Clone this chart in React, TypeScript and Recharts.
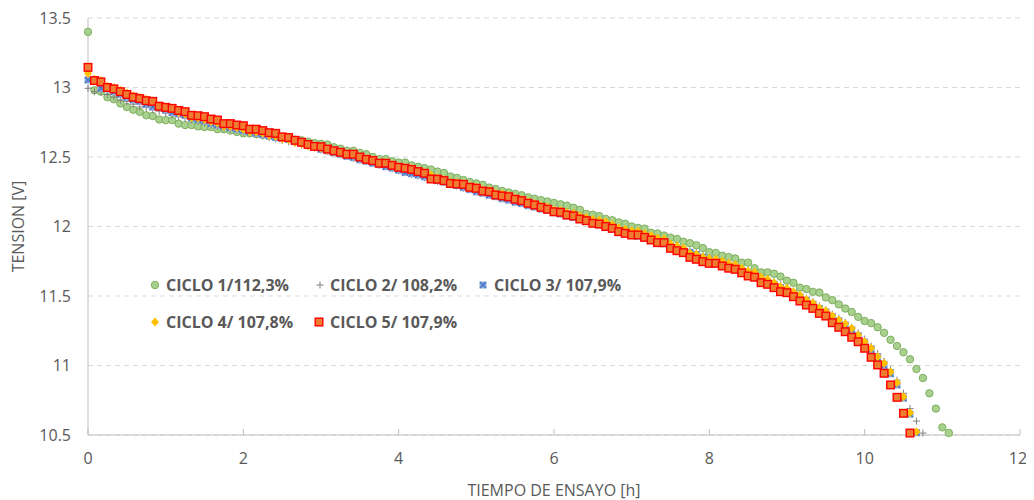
import React from 'react';
import { ScatterChart, Scatter, XAxis, YAxis, CartesianGrid } from 'recharts';

// sampling interval of the test log: one reading every 5 minutes (in hours)
const SAMPLE_HOURS = 5 / 60;

const X_TICKS = [0, 2, 4, 6, 8, 10, 12];
const Y_TICKS = [10.5, 11, 11.5, 12, 12.5, 13, 13.5];

const SERIES_NAMES = [
  'CICLO 1/112,3%',
  'CICLO 2/ 108,2%',
  'CICLO 3/ 107,9%',
  'CICLO 4/ 107,8%',
  'CICLO 5/ 107,9%',
];

const CICLO_1 = [
  13.40, 12.98, 12.97, 12.93, 12.915, 12.885, 12.86, 12.84, 12.825, 12.80, 12.795, 12.77, 12.765, 12.765, 12.74, 12.73, 12.73, 12.72, 12.715, 12.715, 12.70, 12.70, 12.69, 12.68, 12.67, 12.67,
  12.665, 12.66, 12.655, 12.645, 12.64, 12.635, 12.625, 12.62, 12.61, 12.60, 12.595, 12.59, 12.57, 12.56, 12.545, 12.545, 12.53, 12.52, 12.50, 12.485, 12.485, 12.47, 12.46, 12.46, 12.44, 12.43,
  12.42, 12.41, 12.395, 12.385, 12.36, 12.35, 12.335, 12.32, 12.31, 12.30, 12.28, 12.27, 12.255, 12.245, 12.235, 12.225, 12.21, 12.20, 12.19, 12.18, 12.17, 12.16, 12.15, 12.135, 12.12,
  12.09, 12.085, 12.075, 12.055, 12.045, 12.03, 12.02, 12.0, 11.99, 11.985, 11.955, 11.95, 11.935, 11.92, 11.91, 11.89, 11.88, 11.865, 11.845, 11.815, 11.81, 11.79, 11.78, 11.77, 11.74, 11.74,
  11.70, 11.67, 11.67, 11.66, 11.64, 11.61, 11.595, 11.56, 11.55, 11.53, 11.525, 11.49, 11.47, 11.44, 11.41, 11.385, 11.35, 11.32, 11.305, 11.275,
  11.235, 11.185, 11.14, 11.095, 11.045, 10.975, 10.91, 10.80, 10.69, 10.555, 10.515,
];

const CICLO_2 = [
  12.994, 12.97, 12.97, 12.95, 12.93, 12.91, 12.90, 12.88, 12.86, 12.855, 12.84, 12.83, 12.815, 12.80, 12.79, 12.78, 12.765, 12.755, 12.745, 12.73, 12.72, 12.71, 12.70, 12.69, 12.68,
  12.67, 12.66, 12.65, 12.64, 12.63, 12.62, 12.61, 12.60, 12.585, 12.575, 12.565, 12.55, 12.54, 12.53, 12.515, 12.505, 12.49, 12.48, 12.465, 12.455, 12.44, 12.43, 12.415, 12.40, 12.39, 12.375, 12.365,
  12.35, 12.34, 12.325, 12.315, 12.30, 12.29, 12.275, 12.265, 12.25, 12.24, 12.225, 12.215, 12.20, 12.19, 12.175, 12.165, 12.15, 12.14, 12.125, 12.115, 12.10, 12.09, 12.075, 12.065, 12.05, 12.04, 12.025,
  12.015, 12.0, 11.99, 11.975, 11.965, 11.95, 11.94, 11.925, 11.91, 11.895, 11.885, 11.87, 11.855, 11.84, 11.825, 11.81, 11.79, 11.775, 11.76, 11.745, 11.73, 11.71, 11.695, 11.675,
  11.66, 11.64, 11.62, 11.60, 11.58, 11.555, 11.535, 11.51, 11.485, 11.46, 11.43, 11.40, 11.37, 11.34, 11.31, 11.275, 11.235, 11.19, 11.14, 11.085, 11.03, 10.97, 10.895, 10.80, 10.69, 10.60, 10.514,
];

const CICLO_3 = [
  13.054, 13.05, 12.994, 12.99, 12.97, 12.95, 12.93, 12.91, 12.90, 12.88, 12.86, 12.857, 12.84, 12.82, 12.81, 12.80, 12.78, 12.77, 12.76, 12.74, 12.73, 12.72, 12.71, 12.70, 12.69,
  12.68, 12.67, 12.66, 12.65, 12.64, 12.635, 12.625, 12.61, 12.60, 12.585, 12.575, 12.555, 12.545, 12.53, 12.52, 12.505, 12.496, 12.48, 12.47, 12.455, 12.445, 12.43, 12.42, 12.405, 12.388, 12.38, 12.37,
  12.357, 12.34, 12.33, 12.32, 12.305, 12.295, 12.28, 12.265, 12.249, 12.24, 12.225, 12.215, 12.20, 12.19, 12.175, 12.165, 12.15, 12.14, 12.125, 12.115, 12.10, 12.09, 12.075, 12.065, 12.05, 12.04, 12.025,
  12.01, 11.995, 11.98, 11.965, 11.955, 11.94, 11.93, 11.915, 11.90, 11.885, 11.875, 11.86, 11.845, 11.83, 11.815, 11.80, 11.78, 11.765, 11.75, 11.735, 11.72, 11.70, 11.685, 11.665,
  11.645, 11.625, 11.605, 11.585, 11.56, 11.54, 11.52, 11.495, 11.47, 11.44, 11.41, 11.385, 11.35, 11.32, 11.29, 11.255, 11.21, 11.16, 11.115, 11.055, 11.0, 10.94, 10.86, 10.765, 10.65, 10.516,
];

const CICLO_4 = [
  13.10, 13.06, 13.05, 13.01, 13.00, 12.98, 12.96, 12.94, 12.93, 12.915, 12.905, 12.87, 12.86, 12.845, 12.82, 12.81, 12.785, 12.78, 12.77, 12.755, 12.745, 12.72, 12.72, 12.71, 12.70,
  12.68, 12.68, 12.67, 12.655, 12.65, 12.63, 12.625, 12.605, 12.595, 12.58, 12.57, 12.565, 12.55, 12.54, 12.53, 12.52, 12.515, 12.50, 12.485, 12.475, 12.46, 12.46, 12.445, 12.43, 12.425, 12.415, 12.40,
  12.39, 12.37, 12.35, 12.34, 12.32, 12.315, 12.31, 12.29, 12.285, 12.265, 12.26, 12.24, 12.235, 12.225, 12.205, 12.195, 12.18, 12.165, 12.15, 12.14, 12.12, 12.115, 12.10, 12.095, 12.075, 12.065, 12.05,
  12.045, 12.034, 12.015, 11.99, 11.98, 11.97, 11.965, 11.95, 11.935, 11.915, 11.91, 11.875, 11.86, 11.845, 11.81, 11.80, 11.78, 11.77, 11.765, 11.75, 11.735, 11.725, 11.70, 11.68,
  11.67, 11.635, 11.62, 11.595, 11.567, 11.555, 11.53, 11.507, 11.475, 11.45, 11.415, 11.394, 11.358, 11.327, 11.30, 11.268, 11.22, 11.171, 11.124, 11.063, 11.016, 10.955, 10.876, 10.776, 10.66, 10.524,
];

const CICLO_5 = [
  13.145, 13.05, 13.04, 13.00, 12.99, 12.97, 12.95, 12.93, 12.92, 12.905, 12.90, 12.865, 12.857, 12.85, 12.835, 12.826, 12.80, 12.797, 12.79, 12.773, 12.766, 12.74, 12.74, 12.73, 12.725,
  12.70, 12.70, 12.69, 12.675, 12.67, 12.645, 12.64, 12.62, 12.606, 12.59, 12.576, 12.574, 12.557, 12.545, 12.534, 12.52, 12.52, 12.50, 12.483, 12.474, 12.455, 12.455, 12.44, 12.426, 12.419, 12.41, 12.395,
  12.383, 12.342, 12.34, 12.33, 12.31, 12.306, 12.303, 12.282, 12.275, 12.255, 12.25, 12.227, 12.22, 12.214, 12.196, 12.186, 12.167, 12.155, 12.138, 12.124, 12.106, 12.102, 12.083, 12.076, 12.054, 12.042, 12.023,
  12.018, 12.0, 11.987, 11.963, 11.951, 11.939, 11.939, 11.922, 11.903, 11.884, 11.884, 11.843, 11.826, 11.812, 11.778, 11.764, 11.747, 11.735, 11.735, 11.716, 11.70, 11.692, 11.667, 11.644,
  11.635, 11.596, 11.584, 11.56, 11.531, 11.524, 11.495, 11.464, 11.435, 11.411, 11.375, 11.356, 11.308, 11.275, 11.243, 11.203, 11.171, 11.124, 11.059, 11.004, 10.944, 10.86, 10.771, 10.656, 10.514,
];

const toPoints = (vals: number[]) => vals.map((v, i) => ({ x: i * SAMPLE_HOURS, y: v }));

const TEXT = '#595959';
const AXIS = '#BFBFBF';
const GRID = '#D9D9D9';
const FONT = "'Open Sans', 'Noto Sans', sans-serif";

type M = { cx: number; cy: number };

const CircleMark = ({ cx, cy }: M) => (
  <circle cx={cx} cy={cy} r={3.7} fill="#A9D18E" stroke="#7DAE5F" strokeWidth={1} />
);
const PlusMark = ({ cx, cy }: M) => (
  <path d={`M${cx - 3.5},${cy}h7M${cx},${cy - 3.5}v7`} stroke="#808080" strokeWidth={1} fill="none" />
);
const CrossMark = ({ cx, cy }: M) => (
  <g>
    <rect x={cx - 3.5} y={cy - 3.5} width={7} height={7} fill="#8FAADC" />
    <path d={`M${cx - 3},${cy - 3}L${cx + 3},${cy + 3}M${cx - 3},${cy + 3}L${cx + 3},${cy - 3}`} stroke="#4472C4" strokeWidth={1.3} fill="none" />
  </g>
);
const DiamondMark = ({ cx, cy }: M) => (
  <polygon points={`${cx},${cy - 4.5} ${cx + 4},${cy} ${cx},${cy + 4.5} ${cx - 4},${cy}`} fill="#FFC000" />
);
const SquareMark = ({ cx, cy }: M) => (
  <rect x={cx - 3.8} y={cy - 3.8} width={7.6} height={7.6} fill="#ED7D31" stroke="#FF0000" strokeWidth={1.4} />
);

const MARKS = [CircleMark, PlusMark, CrossMark, DiamondMark, SquareMark];
const SERIES = [CICLO_1, CICLO_2, CICLO_3, CICLO_4, CICLO_5];

// legend layout (container coordinates: marker centre x, row centre y, text start x)
const LEGEND_POS = [
  { mx: 147, y: 277, tx: 158 },
  { mx: 312, y: 277, tx: 322 },
  { mx: 475, y: 277, tx: 486 },
  { mx: 147, y: 314, tx: 158 },
  { mx: 311, y: 314, tx: 322 },
];

export default function App() {
  return (
    <div style={{ position: 'relative', width: 1018, height: 492, fontFamily: FONT }}>
      <ScatterChart width={1018} height={492} margin={{ top: 10, right: 6, bottom: 0, left: 0 }}>
        <CartesianGrid horizontal vertical={false} stroke={GRID} strokeDasharray="5 4" />
        <XAxis
          dataKey="x"
          type="number"
          domain={[0, 12]}
          ticks={X_TICKS}
          height={65}
          stroke={AXIS}
          tickSize={-6}
          tickMargin={24}
          tick={{ fill: TEXT, fontSize: 16, fontFamily: FONT }}
          label={{ value: 'TIEMPO DE ENSAYO [h]', position: 'insideBottom', offset: 4, fill: TEXT, fontSize: 16, fontFamily: FONT }}
        />
        <YAxis
          dataKey="y"
          type="number"
          domain={[10.5, 13.5]}
          ticks={Y_TICKS}
          width={80}
          stroke={AXIS}
          tickLine={false}
          tickSize={0}
          tickMargin={17}
          tick={{ fill: TEXT, fontSize: 16, fontFamily: FONT }}
          label={{ value: 'TENSION [V]', angle: -90, position: 'insideLeft', offset: 10, fill: TEXT, fontSize: 16, fontFamily: FONT, style: { textAnchor: 'middle' } }}
        />
        {SERIES.map((vals, k) => {
          const Mark = MARKS[k];
          return (
            <Scatter
              key={SERIES_NAMES[k]}
              name={SERIES_NAMES[k]}
              data={toPoints(vals)}
              isAnimationActive={false}
              shape={(p: any) => <Mark cx={p.cx} cy={p.cy} />}
            />
          );
        })}
      </ScatterChart>
      {SERIES_NAMES.map((name, k) => {
        const pos = LEGEND_POS[k];
        const Mark = MARKS[k];
        return (
          <div
            key={name}
            style={{ position: 'absolute', left: pos.mx - 6, top: pos.y - 12, height: 24, display: 'flex', alignItems: 'center', whiteSpace: 'nowrap' }}
          >
            <svg width={12} height={12} style={{ display: 'block' }}>
              <Mark cx={6} cy={6} />
            </svg>
            <span style={{ marginLeft: pos.tx - (pos.mx + 6), color: TEXT, fontWeight: 700, fontSize: 16, lineHeight: '24px' }}>{name}</span>
          </div>
        );
      })}
    </div>
  );
}
